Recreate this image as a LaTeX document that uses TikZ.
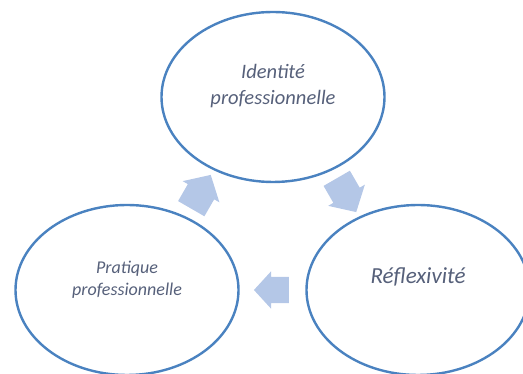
\documentclass[tikz,border=0pt]{standalone}
\usepackage{fontspec}
\setmainfont{Carlito}
\usepackage{tikz}
\usetikzlibrary{calc, positioning, shapes.arrows, shapes.geometric}
\definecolor{ringblue}{HTML}{4A82C0}
\definecolor{arrowblue}{HTML}{B4C7E7}
\definecolor{textgrey}{HTML}{56607A}
\tikzstyle{phase}=[ellipse, draw=ringblue, line width=2.4pt, minimum width=223pt, minimum height=170pt, inner sep=0pt]
\tikzstyle{phasetext}=[text=textgrey, align=center]
\tikzstyle{flow}=[single arrow, fill=arrowblue, draw=none, inner xsep=0pt, inner ysep=13pt, minimum height=35pt, single arrow head extend=5.5pt, single arrow tip angle=95]

\begin{document}
\begin{tikzpicture}[x=1pt, y=1pt]
				\useasboundingbox (0,0) rectangle (523,374);
				\node[phase] (identite) at (273,277) {};
				\node[phase] (pratique) at (127,84) {};
				\node[phase] (reflexivite) at (418,84) {};

				\node[phasetext, font=\itshape\fontsize{20.5}{26}\selectfont] (identiteText) at ([yshift=11pt]identite.center) {Identité\\professionnelle};
				\node[phasetext, font=\itshape\fontsize{18}{22}\selectfont] (pratiqueText) at ([yshift=10pt]pratique.center) {Pratique\\professionnelle};
				\node[phasetext, font=\itshape\fontsize{23}{28}\selectfont] (reflexiviteText) at ([yshift=13.5pt]reflexivite.center) {Réflexivité};

				% block arrows of the cycle
				\node[flow, minimum height=39pt, inner ysep=15pt, single arrow head extend=6pt, rotate=60, xshift=-5pt] (pratiqueToIdentite) at ($(pratique)!0.5!(identite)$) {};
				\node[flow, minimum height=39pt, inner ysep=15pt, single arrow head extend=6pt, rotate=-60, xshift=-5pt] (identiteToReflexivite) at ($(identite)!0.5!(reflexivite)$) {};
				\node[flow, rotate=180, xshift=-5pt] (reflexiviteToPratique) at ($(reflexivite)!0.5!(pratique)$) {};
			\end{tikzpicture}
\end{document}
